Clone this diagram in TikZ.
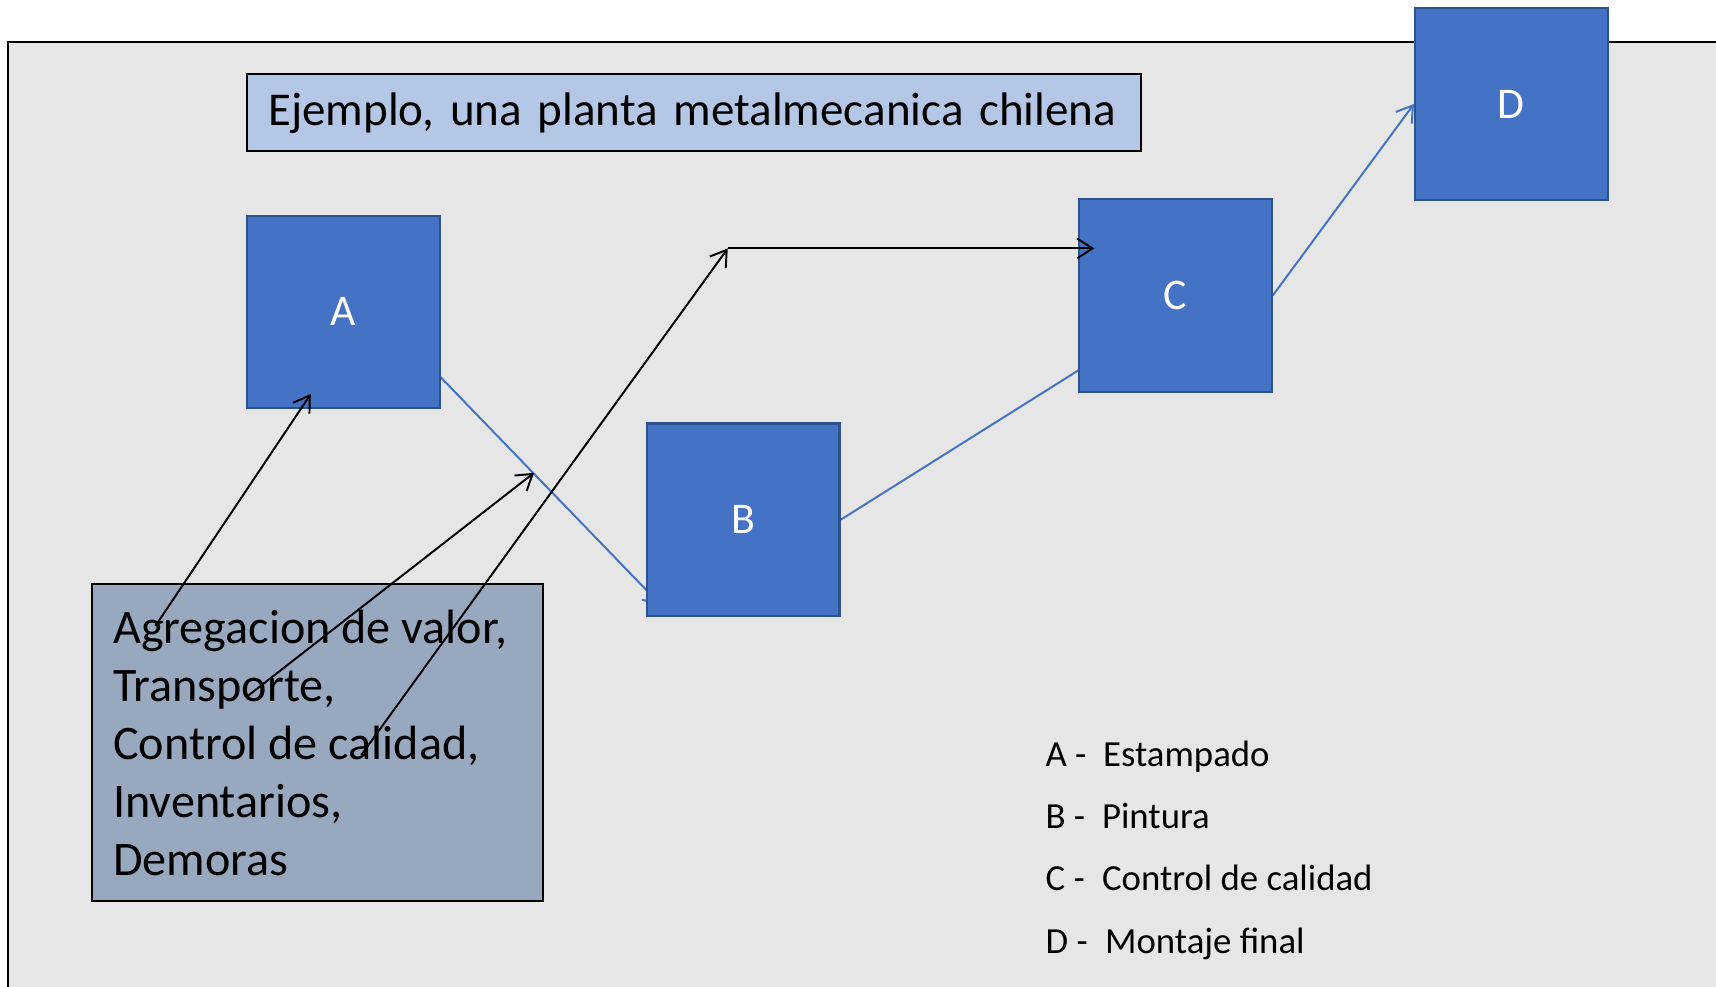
\documentclass[tikz,border=0pt]{standalone}
\usepackage{fontspec}
\setmainfont{Carlito}
\usetikzlibrary{arrows.meta}
\pgfdeclarelayer{bg}
\pgfdeclarelayer{lines}
\pgfsetlayers{bg,lines,main}
\definecolor{frameGray}{RGB}{230,230,230}
\definecolor{boxBlue}{RGB}{68,114,196}
\definecolor{boxBorder}{RGB}{47,82,143}
\definecolor{titleBlue}{RGB}{180,199,231}
\definecolor{noteGray}{RGB}{152,168,191}
\begin{document}
\begin{tikzpicture}[x=0.5pt,y=-0.5pt,
  stage/.style={draw=boxBorder, line width=1pt, fill=boxBlue, minimum width=88pt, minimum height=88pt, inner sep=0pt, text=white, font=\fontsize{20}{24}\selectfont},
  flow/.style={draw=boxBlue, line width=0.9pt},
  flowarrow/.style={flow, -{Straight Barb[length=7pt,width=9pt,line width=0.9pt]}},
  pointer/.style={draw=black, line width=0.9pt, -{Straight Barb[length=7pt,width=9pt,line width=0.9pt]}},
  titlebox/.style={draw=black, line width=0.9pt, fill=titleBlue, minimum width=408.5pt, minimum height=35pt, text width=389.5pt, inner xsep=9.5pt, inner ysep=0pt, align=left, font=\fontsize{21.5}{25}\selectfont},
  notebox/.style={draw=black, line width=0.9pt, fill=noteGray, minimum width=206pt, minimum height=144.5pt, inner sep=0pt},
  plaintext/.style={inner sep=0pt, anchor=base west}
]
\useasboundingbox (0,0) rectangle (1568,901);
\clip (0,0) rectangle (1568,901);

% frame
\begin{pgfonlayer}{bg}
\fill[white] (0,0) rectangle (1568,901);
\draw[fill=frameGray, line width=0.9pt] (7,38) rectangle (1600,940);
\end{pgfonlayer}

% title
\node[titlebox] (title) at (634.5,103) {Ejemplo, una planta metalmecanica chilena};

% stages
\node[stage] (A) at (314,285) {A};
\node[stage] (B) at (679,475) {B};
\node[stage] (C) at (1074,270) {C};
\node[stage] (D) at (1381,95) {D};

% note box
\node[notebox] (note) at (290,678.5) {};
\node[plaintext, font=\fontsize{22}{26.5}\selectfont] (notetext) at (103,588)
  {\vtop{\baselineskip=26.5pt\hbox{Agregacion de valor,}\hbox{Transporte,}\hbox{Control de calidad,}\hbox{Inventarios,}\hbox{Demoras}}};

% legend
\node[plaintext, font=\fontsize{16.8}{20}\selectfont] (legend) at (955,700)
  {\vtop{\baselineskip=28.5pt
   \hbox{\makebox[26.3pt][l]{A -}Estampado}
   \hbox{\makebox[25.8pt][l]{B -}Pintura}
   \hbox{\makebox[25.8pt][l]{C -}Control de calidad}
   \hbox{\makebox[27.2pt][l]{D -}Montaje final}}};

% coordinates
\coordinate (aout) at (402,344);
\coordinate (bin) at (604,553);
\coordinate (cin) at (986,338);
\coordinate (p1s) at (142,572);
\coordinate (p1e) at (284,360);
\coordinate (p2s) at (225,637);
\coordinate (p2e) at (488,432);
\coordinate (p3s) at (330,690);
\coordinate (p3e) at (665,227);
\coordinate (p4e) at (1000,227);

% blue flow connectors (under the boxes)
\begin{pgfonlayer}{lines}
\draw[flowarrow] (aout) -- (bin);
\draw[flow] (B.east) -- (cin);
\draw[flowarrow] (C.east) -- (D.west);
\end{pgfonlayer}

% black pointers
\draw[pointer] (p1s) -- (p1e);
\draw[pointer] (p2s) -- (p2e);
\draw[pointer] (p3s) -- (p3e);
\draw[pointer] (p3e) -- (p4e);
\end{tikzpicture}
\end{document}
